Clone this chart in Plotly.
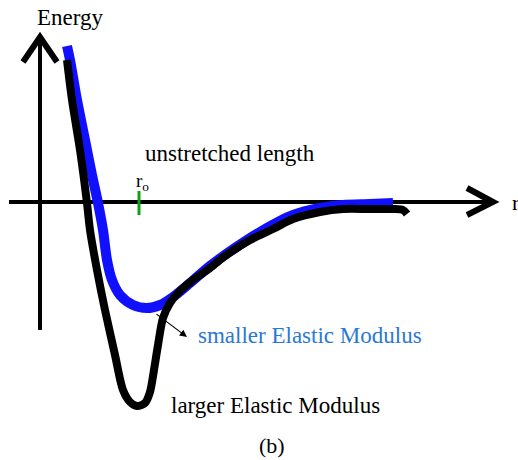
import plotly.graph_objects as go

# Curvas de energia (r, energia); origem no cruzamento dos eixos
r_menor = [27, 30, 37, 45, 52, 58, 63, 67, 72, 80, 93, 107, 120, 133, 150, 170,
           195, 220, 253, 280, 303, 330, 353]
e_menor = [156, 142, 102, 62, 27, -1, -28, -58, -78, -93, -103, -106, -103, -95,
           -81, -64, -46, -30, -13, -6, -3, -2, -1]

r_maior = [27, 32, 40, 47, 50, 57, 65, 75, 83, 90, 97, 105, 110, 114, 118, 123,
           130, 140, 153, 170, 185, 210, 233, 253, 280, 303, 330, 353, 363, 367]
e_maior = [142, 102, 52, -1, -28, -68, -108, -153, -188, -200, -204, -201, -190,
           -168, -143, -116, -101, -89, -78, -66, -54, -38, -27, -17, -10, -7, -7,
           -7, -8, -12]

r0 = 99
SERIF = "Liberation Serif, Times New Roman, serif"

fig = go.Figure()

fig.add_trace(go.Scatter(
    x=r_menor, y=e_menor, mode="lines",
    line=dict(color="#1010ff", width=10, shape="spline", smoothing=0.8),
    hoverinfo="skip",
))
fig.add_trace(go.Scatter(
    x=r_maior, y=e_maior, mode="lines",
    line=dict(color="black", width=8, shape="spline", smoothing=0.8),
    hoverinfo="skip",
))

# eixos desenhados à mão
fig.add_shape(type="line", x0=-31, y0=0, x1=452, y1=0,
              line=dict(color="black", width=4), layer="below")
fig.add_shape(type="line", x0=0, y0=-128, x1=0, y1=163,
              line=dict(color="black", width=4), layer="below")
fig.add_shape(type="path", path="M 427,14 L 453,0 L 427,-13",
              line=dict(color="black", width=6))
fig.add_shape(type="path", path="M -17,140 L 0,165 L 17,140",
              line=dict(color="black", width=6))
fig.add_shape(type="line", x0=r0, y0=-13, x1=r0, y1=11,
              line=dict(color="#10a010", width=3))

anot = [
    dict(x=30, y=185, text="Energy", font=dict(size=23, color="black")),
    dict(x=470, y=0, text="r", xanchor="left", font=dict(size=22, color="black")),
    dict(x=190, y=49, text="unstretched length", font=dict(size=23, color="black")),
    dict(x=r0 + 3, y=20, text="r<sub>o</sub>", font=dict(size=19, color="black")),
    dict(x=156, y=-133, text="smaller Elastic Modulus", xanchor="left",
         font=dict(size=23, color="#2a78d6")),
    dict(x=129, y=-203, text="larger Elastic Modulus", xanchor="left",
         font=dict(size=23, color="black")),
    dict(x=232, y=-243, text="(b)", font=dict(size=22, color="black")),
]
for a in anot:
    a["font"]["family"] = SERIF
    fig.add_annotation(showarrow=False, **a)

fig.add_annotation(x=147, y=-135, ax=115, ay=-111, axref="x", ayref="y",
                   text="", showarrow=True, arrowhead=2, arrowsize=1.2,
                   arrowwidth=1.2, arrowcolor="black")

fig.update_layout(
    width=518, height=460,
    paper_bgcolor="white", plot_bgcolor="white",
    margin=dict(l=0, r=0, t=0, b=0),
    showlegend=False,
    xaxis=dict(range=[-40, 478], visible=False, fixedrange=True),
    yaxis=dict(range=[-258, 202], visible=False, fixedrange=True),
)

# sem a margem padrão do body, o gráfico fica alinhado com a janela
fig.write_html("out.html", config={"displayModeBar": False},
               post_script="document.body.style.margin='0px';")
